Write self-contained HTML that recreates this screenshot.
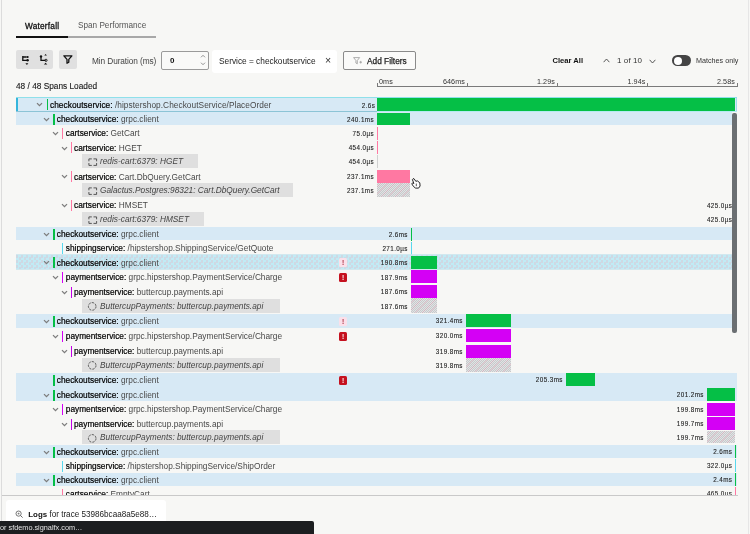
<!DOCTYPE html>
<html><head><meta charset="utf-8"><title>Trace Waterfall</title>
<style>
*{box-sizing:border-box;margin:0;padding:0}
html,body{width:750px;height:534px;overflow:hidden;background:#f7f7f5}
body{position:relative;font-family:"Liberation Sans",Arial,sans-serif;font-size:8.3px;color:#222;line-height:1}
.abs{position:absolute;white-space:nowrap}
#lborder{position:absolute;left:1px;top:0;width:1px;height:534px;background:#dcdcdc}
#rborder{position:absolute;left:748px;top:0;width:1px;height:534px;background:#e6e6e6}
/* tabs */
.tab{position:absolute;top:22.8px;font-size:8.3px}
#tabline{position:absolute;left:16px;top:36px;width:140px;height:1.6px;background:#a8a8a8}
#tabactive{position:absolute;left:16px;top:35.5px;width:52px;height:2.2px;background:#111}
.ax{margin-top:-0.7px;font-size:7.2px;color:#333;letter-spacing:0.1px}
.tk{top:82.5px;width:1px;height:4px;background:#7a7a7a}
/* toolbar */
.btn{position:absolute;background:#e0e0e0;border-radius:2px}
#rows{position:absolute;left:0;top:0;width:750px;height:495px;overflow:hidden}
.row{position:absolute;left:16px;width:721px;height:14.44px}
.row>*{position:absolute}
.row.blue{background:#d7e9f5}
.row.hover{background:#c9e4ee repeating-conic-gradient(#c1ebf5 0 25%,#ced9e4 0 50%) 0 0/5px 5px;box-shadow:0 -0.8px #c9e4ee,0 0.8px #c9e4ee}
.row.sel{background:#d7e9f5;box-shadow:inset 0 1px #8fe0ea, inset 0 -1px #8cc4d6, inset 2px 0 #35b5dc, inset -1px 0 #9fdcea;height:15.1px !important}
.row .chev{top:5.2px;margin-left:-16px}
.row .cb{top:2px;width:1.6px;height:11px;margin-left:-16px}
.row .lbl{top:3.3px;margin-left:-16px;white-space:nowrap;color:#484848;font-size:8.3px}
.row .lbl b{font-weight:normal;color:#000;-webkit-text-stroke:0.2px #000}
.row .inf{left:66.2px;top:-0.4px;height:13.9px;background:#dfdfdf;white-space:nowrap;overflow:hidden}
.row .inf i{position:absolute;left:17.8px;top:3px;color:#444;font-size:8.3px}
.row .ic{position:absolute}
.ic.sq{border:0.8px dashed #444;border-radius:1px}
.ic.ci{border:0.8px dashed #555;border-radius:50%;width:8.6px;height:8.6px;left:5.6px;top:2.7px}
.row .dur{top:4.6px;margin-right:-13px;white-space:nowrap;color:#222;font-size:6.3px;letter-spacing:0.42px;-webkit-text-stroke:0.1px #222}
.row .bar{top:0.5px;height:13px;margin-left:-16px}

.row.sel .lbl{top:4.0px}
.row.sel .tl{left:361px;right:0;bottom:0;height:1px;background:#b5ebf2}
.row.sel .dur{top:5.9px;margin-right:-14.2px}
.row.r1 .dur{top:5.5px}
.row.r1 .bar{top:1.3px;height:12.3px}
.row.sel .bar{top:1.2px;height:13.2px}
.row .bar.hatch{top:-1px;height:14.4px;background-color:#d4d6d8;background-image:repeating-linear-gradient(-45deg,rgba(255,110,150,0.22) 0 0.7px,transparent 0.7px 5px),repeating-conic-gradient(#c9c9c9 0 25%,#dfe3e6 0 50%);background-size:auto,2px 2px}
.row .err{left:323px;top:3px;width:8px;height:9px;border-radius:1.5px;font-size:6.5px;font-weight:bold;text-align:center;line-height:9px}
.err.red{background:#c5111f;color:#fff}
.err.light{background:#fbe0ea;color:#a8283a}
</style></head><body>
<div id="lborder"></div><div id="rborder"></div>
<div class="tab" style="left:25px;margin-top:-0.4px;color:#111;-webkit-text-stroke:0.3px #111;letter-spacing:0.2px">Waterfall</div>
<div class="tab" style="left:78px;color:#555;font-size:8.2px;margin-top:-0.4px">Span Performance</div>
<div id="tabline"></div><div id="tabactive"></div>

<div class="btn" style="left:16px;top:50px;width:36.7px;height:18.7px"></div>
<div class="btn" style="left:59px;top:50px;width:18px;height:18.7px"></div>

<svg class="abs" style="left:20.9px;top:55px" width="10" height="11" viewBox="0 0 10 11"><path d="M1.8 1 V5.3 H6.5 M1.8 2 H5.6" fill="none" stroke="#111" stroke-width="1.3"/><circle cx="6.6" cy="2" r="1.1" fill="#111"/><circle cx="6.6" cy="5.3" r="1.2" fill="#111"/><path d="M4.4 8.3 h3 l-1.5 1.6z" fill="#111"/></svg>
<svg class="abs" style="left:38.5px;top:53px" width="11" height="13" viewBox="0 0 11 13"><path d="M2 3.5 V7.3 H6.5" fill="none" stroke="#111" stroke-width="1.3"/><circle cx="2" cy="3.4" r="1.2" fill="#111"/><circle cx="7" cy="7.3" r="1.1" fill="none" stroke="#111" stroke-width="0.9"/><path d="M5.3 2.4 h2.6 l-1.3 -1.5z M4.9 11.6 h3.4 l-1.7 -1.9z" fill="#111"/></svg>
<svg class="abs" style="left:62.9px;top:55.2px" width="10" height="9" viewBox="0 0 10 9"><path d="M0.9 0.8 H8.9 L5.8 4.4 V7.2 L4 8.2 V4.4 Z" fill="none" stroke="#111" stroke-width="1.3" stroke-linejoin="round"/></svg>
<div class="abs" style="left:92px;top:57px;color:#444;letter-spacing:-0.1px">Min Duration (ms)</div>
<div class="abs" style="left:161px;top:50.7px;width:48px;height:19px;border:1px solid #9a9a9a;border-radius:2px;background:#f9f9f8"></div>
<svg class="abs" style="left:199.5px;top:54px" width="6" height="12" viewBox="0 0 6 12"><path d="M1 3.3 L3 1.3 L5 3.3 M1 8.7 L3 10.7 L5 8.7" fill="none" stroke="#777" stroke-width="0.8"/></svg>
<div class="abs" style="left:170px;top:57px;font-size:8px;color:#111;font-weight:bold">0</div>
<div class="abs" style="left:212px;top:49.5px;width:125px;height:23px;background:#fff;border-radius:3px"></div>
<div class="abs" style="left:219px;top:57.2px;color:#222">Service = checkoutservice</div>
<div class="abs" style="left:325px;top:55.2px;color:#333;font-size:10.5px">×</div>
<div class="abs" style="left:343px;top:50.7px;width:72.8px;height:19px;border:1px solid #8a8a8a;border-radius:2px;background:#fafaf9"></div>
<svg class="abs" style="left:353px;top:56.5px" width="10" height="8" viewBox="0 0 10 8"><path d="M0.6 0.6 H6.6 L4.3 3.5 V6.8 L2.9 6 V3.5 Z" fill="none" stroke="#999" stroke-width="0.8" stroke-linejoin="round"/><path d="M6.4 5.2 h2.6 M7.7 3.9 v2.6" stroke="#999" stroke-width="0.8"/></svg>
<div class="abs" style="left:367px;top:56.8px;color:#222;-webkit-text-stroke:0.25px #222">Add Filters</div>
<div class="abs" style="left:552.5px;top:56.8px;color:#111;font-weight:bold;font-size:7.6px">Clear All</div>
<svg class="abs" style="left:602.5px;top:57.5px" width="7" height="5" viewBox="0 0 7 5"><path d="M0.6 4.2 L3.5 1 L6.4 4.2" fill="none" stroke="#444" stroke-width="0.9"/></svg>
<div class="abs" style="left:617px;top:56.7px;color:#333;font-size:8px;letter-spacing:0.1px">1 of 10</div>
<svg class="abs" style="left:648.8px;top:58.5px" width="7" height="5" viewBox="0 0 7 5"><path d="M0.6 0.8 L3.5 4 L6.4 0.8" fill="none" stroke="#444" stroke-width="0.9"/></svg>
<div class="abs" style="left:672.2px;top:55.3px;width:19px;height:10.6px;border-radius:6px;background:#444"></div>
<div class="abs" style="left:673.5px;top:56.6px;width:8px;height:8px;border-radius:50%;background:#fff"></div>
<div class="abs" style="left:696px;top:57.2px;color:#333;font-size:7.2px">Matches only</div>

<div class="abs" style="left:16px;top:81.5px;color:#1a1a1a;-webkit-text-stroke:0.12px #1a1a1a">48 / 48 Spans Loaded</div>

<!-- axis -->
<div class="abs" style="left:376.5px;top:85.5px;width:361.5px;height:1px;background:#7a7a7a"></div>
<div class="abs ax" style="left:379px;top:78.6px">0ms</div>
<div class="abs ax" style="right:285px;top:78.6px">646ms</div>
<div class="abs ax" style="right:195px;top:78.6px">1.29s</div>
<div class="abs ax" style="right:104.5px;top:78.6px">1.94s</div>
<div class="abs ax" style="right:15px;top:78.6px">2.58s</div>
<div class="abs tk" style="left:376.5px"></div>
<div class="abs tk" style="left:466.5px"></div>
<div class="abs tk" style="left:556.5px"></div>
<div class="abs tk" style="left:647.3px"></div>
<div class="abs tk" style="left:737px"></div>

<div id="rows">
<div class="row sel" style="top:96.80px;height:14.10px"><svg class="chev" style="left:36.4px" width="7" height="5" viewBox="0 0 7 5"><path d="M1 1.1 L3.5 3.6 L6 1.1" fill="none" stroke="#7c7c7c" stroke-width="1.3"/></svg><span class="cb" style="left:46.55px;width:1.85px;background:#05bf46"></span><span class="lbl" style="left:50px;letter-spacing:0.05px"><b>checkoutservice:</b> /hipstershop.CheckoutService/PlaceOrder</span><span class="tl"></span><span class="dur" style="right:375.9px">2.6s</span><span class="bar" style="left:377.2px;width:358.3px;background:#05bf46"></span></div>
<div class="row blue r1" style="top:111.80px;height:13.30px"><svg class="chev" style="left:43.4px" width="7" height="5" viewBox="0 0 7 5"><path d="M1 1.1 L3.5 3.6 L6 1.1" fill="none" stroke="#7c7c7c" stroke-width="1.3"/></svg><span class="cb" style="left:53.05px;width:1.85px;background:#05bf46"></span><span class="lbl" style="left:56.8px"><b>checkoutservice:</b> grpc.client</span><span class="dur" style="right:375.9px">240.1ms</span><span class="bar" style="left:377.2px;width:32.80000000000001px;background:#05bf46"></span></div>
<div class="row" style="top:126.00px;height:13.53px"><svg class="chev" style="left:52.1px" width="7" height="5" viewBox="0 0 7 5"><path d="M1 1.1 L3.5 3.6 L6 1.1" fill="none" stroke="#7c7c7c" stroke-width="1.3"/></svg><span class="cb" style="left:62px;width:1.35px;background:#ff78a2"></span><span class="lbl" style="left:65.8px"><b>cartservice:</b> GetCart</span><span class="dur" style="right:375.9px">75.0µs</span><span class="bar" style="left:377.2px;width:1.1999999999999886px;background:#ff78a2"></span></div>
<div class="row" style="top:140.43px;height:13.53px"><svg class="chev" style="left:60.9px" width="7" height="5" viewBox="0 0 7 5"><path d="M1 1.1 L3.5 3.6 L6 1.1" fill="none" stroke="#7c7c7c" stroke-width="1.3"/></svg><span class="cb" style="left:70.9px;width:1.35px;background:#ff78a2"></span><span class="lbl" style="left:74px"><b>cartservice:</b> HGET</span><span class="dur" style="right:375.9px">454.0µs</span><span class="bar" style="left:377.2px;width:1.1999999999999886px;background:#ff78a2"></span></div>
<div class="row" style="top:154.86px;height:13.53px"><div class="inf" style="width:116px"><svg class="ic" style="left:5.9px;top:3.7px" width="10" height="9" viewBox="0 0 10 9"><path d="M0.9 3.3 V0.9 H3.8 M5.5 0.9 H8.6 V3.3 M8.6 5 V7.4 H5.5 M3.8 7.4 H0.9 V5" fill="none" stroke="#333" stroke-width="0.8"/></svg><i>redis-cart:6379: HGET</i></div><span class="dur" style="right:375.9px">454.0µs</span><span class="bar" style="left:377.2px;width:1.1000000000000227px;background:#d0d0d0"></span></div>
<div class="row" style="top:169.29px;height:13.53px"><svg class="chev" style="left:60.9px" width="7" height="5" viewBox="0 0 7 5"><path d="M1 1.1 L3.5 3.6 L6 1.1" fill="none" stroke="#7c7c7c" stroke-width="1.3"/></svg><span class="cb" style="left:70.9px;width:1.35px;background:#ff78a2"></span><span class="lbl" style="left:74px"><b>cartservice:</b> Cart.DbQuery.GetCart</span><span class="dur" style="right:375.9px">237.1ms</span><span class="bar" style="left:377.2px;width:32.80000000000001px;background:#ff78a2"></span></div>
<div class="row" style="top:183.71px;height:13.53px"><div class="inf" style="width:211px"><svg class="ic" style="left:5.9px;top:3.7px" width="10" height="9" viewBox="0 0 10 9"><path d="M0.9 3.3 V0.9 H3.8 M5.5 0.9 H8.6 V3.3 M8.6 5 V7.4 H5.5 M3.8 7.4 H0.9 V5" fill="none" stroke="#333" stroke-width="0.8"/></svg><i>Galactus.Postgres:98321: Cart.DbQuery.GetCart</i></div><span class="dur" style="right:375.9px">237.1ms</span><span class="bar hatch" style="left:377.2px;width:32.80000000000001px;top:-1.2px;height:14.4px"></span></div>
<div class="row" style="top:198.14px;height:13.53px"><svg class="chev" style="left:60.9px" width="7" height="5" viewBox="0 0 7 5"><path d="M1 1.1 L3.5 3.6 L6 1.1" fill="none" stroke="#7c7c7c" stroke-width="1.3"/></svg><span class="cb" style="left:70.9px;width:1.35px;background:#ff78a2"></span><span class="lbl" style="left:74px"><b>cartservice:</b> HMSET</span><span class="dur" style="right:17.6px">425.0µs</span><span class="bar" style="left:734.6px;width:1.3999999999999773px;background:#ff78a2"></span></div>
<div class="row" style="top:212.57px;height:13.53px"><div class="inf" style="width:121.5px"><svg class="ic" style="left:5.9px;top:3.7px" width="10" height="9" viewBox="0 0 10 9"><path d="M0.9 3.3 V0.9 H3.8 M5.5 0.9 H8.6 V3.3 M8.6 5 V7.4 H5.5 M3.8 7.4 H0.9 V5" fill="none" stroke="#333" stroke-width="0.8"/></svg><i>redis-cart:6379: HMSET</i></div><span class="dur" style="right:17.6px">425.0µs</span><span class="bar" style="left:734.6px;width:1.3999999999999773px;background:#ccc"></span></div>
<div class="row blue" style="top:227.00px;height:13.25px"><svg class="chev" style="left:43.4px" width="7" height="5" viewBox="0 0 7 5"><path d="M1 1.1 L3.5 3.6 L6 1.1" fill="none" stroke="#7c7c7c" stroke-width="1.3"/></svg><span class="cb" style="left:53.05px;width:1.85px;background:#05bf46"></span><span class="lbl" style="left:56.8px"><b>checkoutservice:</b> grpc.client</span><span class="dur" style="right:342.1px">2.6ms</span><span class="bar" style="left:411px;width:1px;background:#05bf46"></span></div>
<div class="row" style="top:241.15px;height:13.25px"><span class="cb" style="left:62px;width:1.35px;background:#59d8ee"></span><span class="lbl" style="left:65.8px"><b>shippingservice:</b> /hipstershop.ShippingService/GetQuote</span><span class="dur" style="right:342.1px">271.0µs</span><span class="bar" style="left:411px;width:1px;background:#59d8ee"></span></div>
<div class="row hover" style="top:255.30px;height:13.72px"><svg class="chev" style="left:43.4px" width="7" height="5" viewBox="0 0 7 5"><path d="M1 1.1 L3.5 3.6 L6 1.1" fill="none" stroke="#7c7c7c" stroke-width="1.3"/></svg><span class="cb" style="left:53.05px;width:1.85px;background:#05bf46"></span><span class="lbl" style="left:56.8px"><b>checkoutservice:</b> grpc.client</span><span class="err light">!</span><span class="dur" style="right:342.1px">190.8ms</span><span class="bar" style="left:411px;width:26px;background:#05bf46"></span></div>
<div class="row" style="top:269.93px;height:13.72px"><svg class="chev" style="left:52.1px" width="7" height="5" viewBox="0 0 7 5"><path d="M1 1.1 L3.5 3.6 L6 1.1" fill="none" stroke="#7c7c7c" stroke-width="1.3"/></svg><span class="cb" style="left:62px;width:1.35px;background:#d400f5"></span><span class="lbl" style="left:65.8px"><b>paymentservice:</b> grpc.hipstershop.PaymentService/Charge</span><span class="err red">!</span><span class="dur" style="right:342.1px">187.9ms</span><span class="bar" style="left:411px;width:26px;background:#d400f5"></span></div>
<div class="row" style="top:284.55px;height:13.72px"><svg class="chev" style="left:60.9px" width="7" height="5" viewBox="0 0 7 5"><path d="M1 1.1 L3.5 3.6 L6 1.1" fill="none" stroke="#7c7c7c" stroke-width="1.3"/></svg><span class="cb" style="left:70.9px;width:1.35px;background:#c400e6"></span><span class="lbl" style="left:74px"><b>paymentservice:</b> buttercup.payments.api</span><span class="dur" style="right:342.1px">187.6ms</span><span class="bar" style="left:411px;width:26px;background:#d400f5"></span></div>
<div class="row" style="top:299.18px;height:13.72px"><div class="inf" style="width:198px"><svg class="ic" style="left:4.9px;top:2.1px" width="11" height="11" viewBox="0 0 11 11"><circle cx="5.2" cy="5.4" r="3.8" fill="none" stroke="#3a3a3a" stroke-width="0.85" stroke-dasharray="2.2 1.2"/></svg><i>ButtercupPayments: buttercup.payments.api</i></div><span class="dur" style="right:342.1px">187.6ms</span><span class="bar hatch" style="left:411px;width:26px;top:-1.0px;height:14.4px"></span></div>
<div class="row blue" style="top:313.80px;height:14.20px"><svg class="chev" style="left:43.4px" width="7" height="5" viewBox="0 0 7 5"><path d="M1 1.1 L3.5 3.6 L6 1.1" fill="none" stroke="#7c7c7c" stroke-width="1.3"/></svg><span class="cb" style="left:53.05px;width:1.85px;background:#05bf46"></span><span class="lbl" style="left:56.8px"><b>checkoutservice:</b> grpc.client</span><span class="err light">!</span><span class="dur" style="right:287.1px">321.4ms</span><span class="bar" style="left:466px;width:45px;background:#05bf46"></span></div>
<div class="row" style="top:328.90px;height:14.20px"><svg class="chev" style="left:52.1px" width="7" height="5" viewBox="0 0 7 5"><path d="M1 1.1 L3.5 3.6 L6 1.1" fill="none" stroke="#7c7c7c" stroke-width="1.3"/></svg><span class="cb" style="left:62px;width:1.35px;background:#d400f5"></span><span class="lbl" style="left:65.8px"><b>paymentservice:</b> grpc.hipstershop.PaymentService/Charge</span><span class="err red">!</span><span class="dur" style="right:287.1px">320.0ms</span><span class="bar" style="left:466px;width:45px;background:#d400f5"></span></div>
<div class="row" style="top:344.00px;height:13.50px"><svg class="chev" style="left:60.9px" width="7" height="5" viewBox="0 0 7 5"><path d="M1 1.1 L3.5 3.6 L6 1.1" fill="none" stroke="#7c7c7c" stroke-width="1.3"/></svg><span class="cb" style="left:70.9px;width:1.35px;background:#c400e6"></span><span class="lbl" style="left:74px"><b>paymentservice:</b> buttercup.payments.api</span><span class="dur" style="right:287.1px">319.8ms</span><span class="bar" style="left:466px;width:45px;background:#d400f5"></span></div>
<div class="row" style="top:358.40px;height:13.50px"><div class="inf" style="width:198px"><svg class="ic" style="left:4.9px;top:2.1px" width="11" height="11" viewBox="0 0 11 11"><circle cx="5.2" cy="5.4" r="3.8" fill="none" stroke="#3a3a3a" stroke-width="0.85" stroke-dasharray="2.2 1.2"/></svg><i>ButtercupPayments: buttercup.payments.api</i></div><span class="dur" style="right:287.1px">319.8ms</span><span class="bar hatch" style="left:466px;width:45px;top:-0.4px;height:13.8px"></span></div>
<div class="row blue" style="top:372.80px;height:15.00px"><span class="cb" style="left:53.05px;width:1.85px;background:#05bf46"></span><span class="lbl" style="left:56.8px"><b>checkoutservice:</b> grpc.client</span><span class="err red">!</span><span class="dur" style="right:187.1px">205.3ms</span><span class="bar" style="left:566px;width:29px;background:#05bf46"></span></div>
<div class="row blue" style="top:387.80px;height:13.50px"><svg class="chev" style="left:43.4px" width="7" height="5" viewBox="0 0 7 5"><path d="M1 1.1 L3.5 3.6 L6 1.1" fill="none" stroke="#7c7c7c" stroke-width="1.3"/></svg><span class="cb" style="left:53.05px;width:1.85px;background:#05bf46"></span><span class="lbl" style="left:56.8px"><b>checkoutservice:</b> grpc.client</span><span class="dur" style="right:46.1px">201.2ms</span><span class="bar" style="left:707px;width:28px;background:#05bf46"></span></div>
<div class="row" style="top:402.20px;height:13.50px"><svg class="chev" style="left:52.1px" width="7" height="5" viewBox="0 0 7 5"><path d="M1 1.1 L3.5 3.6 L6 1.1" fill="none" stroke="#7c7c7c" stroke-width="1.3"/></svg><span class="cb" style="left:62px;width:1.35px;background:#d400f5"></span><span class="lbl" style="left:65.8px"><b>paymentservice:</b> grpc.hipstershop.PaymentService/Charge</span><span class="dur" style="right:46.1px">199.8ms</span><span class="bar" style="left:707px;width:28px;background:#d400f5"></span></div>
<div class="row" style="top:416.60px;height:13.30px"><svg class="chev" style="left:60.9px" width="7" height="5" viewBox="0 0 7 5"><path d="M1 1.1 L3.5 3.6 L6 1.1" fill="none" stroke="#7c7c7c" stroke-width="1.3"/></svg><span class="cb" style="left:70.9px;width:1.35px;background:#c400e6"></span><span class="lbl" style="left:74px"><b>paymentservice:</b> buttercup.payments.api</span><span class="dur" style="right:46.1px">199.7ms</span><span class="bar" style="left:707px;width:28px;background:#d400f5"></span></div>
<div class="row" style="top:430.80px;height:13.10px"><div class="inf" style="width:198px"><svg class="ic" style="left:4.9px;top:2.1px" width="11" height="11" viewBox="0 0 11 11"><circle cx="5.2" cy="5.4" r="3.8" fill="none" stroke="#3a3a3a" stroke-width="0.85" stroke-dasharray="2.2 1.2"/></svg><i>ButtercupPayments: buttercup.payments.api</i></div><span class="dur" style="right:46.1px">199.7ms</span><span class="bar hatch" style="left:707px;width:28px;top:-0.2px;height:12.5px"></span></div>
<div class="row blue" style="top:444.80px;height:13.00px"><svg class="chev" style="left:43.4px" width="7" height="5" viewBox="0 0 7 5"><path d="M1 1.1 L3.5 3.6 L6 1.1" fill="none" stroke="#7c7c7c" stroke-width="1.3"/></svg><span class="cb" style="left:53.05px;width:1.85px;background:#05bf46"></span><span class="lbl" style="left:56.8px"><b>checkoutservice:</b> grpc.client</span><span class="dur" style="right:17.6px">2.6ms</span><span class="bar" style="left:734.6px;width:1.3999999999999773px;background:#05bf46"></span></div>
<div class="row" style="top:458.70px;height:13.10px"><span class="cb" style="left:62px;width:1.35px;background:#59d8ee"></span><span class="lbl" style="left:65.8px"><b>shippingservice:</b> /hipstershop.ShippingService/ShipOrder</span><span class="dur" style="right:17.6px">322.0µs</span><span class="bar" style="left:734.6px;width:1.3999999999999773px;background:#59d8ee"></span></div>
<div class="row blue" style="top:472.70px;height:13.10px"><svg class="chev" style="left:43.4px" width="7" height="5" viewBox="0 0 7 5"><path d="M1 1.1 L3.5 3.6 L6 1.1" fill="none" stroke="#7c7c7c" stroke-width="1.3"/></svg><span class="cb" style="left:53.05px;width:1.85px;background:#05bf46"></span><span class="lbl" style="left:56.8px"><b>checkoutservice:</b> grpc.client</span><span class="dur" style="right:17.6px">2.4ms</span><span class="bar" style="left:734.6px;width:1.3999999999999773px;background:#05bf46"></span></div>
<div class="row" style="top:486.70px;height:13.10px"><span class="cb" style="left:62px;width:1.35px;background:#ff78a2"></span><span class="lbl" style="left:65.8px"><b>cartservice:</b> EmptyCart</span><span class="dur" style="right:17.6px">465.0µs</span><span class="bar" style="left:734.6px;width:1.3999999999999773px;background:#ff78a2"></span></div>
</div>
<svg class="abs" style="left:410.5px;top:177.6px" width="10" height="11" viewBox="0 0 10 11"><path d="M2 0.8 L3 0.7 L4.8 3.3 L6.4 2.9 L8.8 4.8 L9.1 8 L7.6 10.1 L4.6 10.1 L2.6 8.6 L0.8 5.9 L1.5 4.9 L2.9 5.5 L1.4 1.6 Z" fill="#fff" stroke="#111" stroke-width="0.9" stroke-linejoin="round"/><path d="M5.3 5.6 v2.6" stroke="#444" stroke-width="0.9"/></svg>
<!-- scrollbar thumb -->
<div class="abs" style="left:731.5px;top:112px;width:6.5px;height:222px;background:#f7f7f5"></div>
<div class="abs" style="left:732px;top:113px;width:4.5px;height:220px;background:#6b6f72;border-radius:2px"></div>

<div class="abs" style="left:2px;top:495px;width:736px;height:1px;background:#c9c9c9"></div>
<div class="abs" style="left:6px;top:499.6px;width:160px;height:30px;background:#fff;border-radius:3px"></div>
<svg class="abs" style="left:15px;top:510px" width="9" height="9" viewBox="0 0 9 9"><circle cx="3.6" cy="3.6" r="2.6" fill="none" stroke="#555" stroke-width="0.8"/><path d="M5.5 5.5 L7.6 7.6" stroke="#555" stroke-width="0.9"/><path d="M2.6 3.6 h2 M3.6 2.6 v2" stroke="#555" stroke-width="0.6"/></svg>
<div class="abs" style="left:28.3px;top:510.8px;color:#222;font-size:8.15px"><b style="font-size:7.9px;color:#111">Logs</b> for trace 53986bcaa8a5e88…</div>
<div class="abs" style="left:0;top:521.3px;width:313.5px;height:13px;background:#1c1e20;border-top-right-radius:2px"></div>
<div class="abs" style="left:0;top:524.3px;color:#e4e4e4;font-size:7.3px">or sfdemo.signalfx.com…</div>
</body></html>
